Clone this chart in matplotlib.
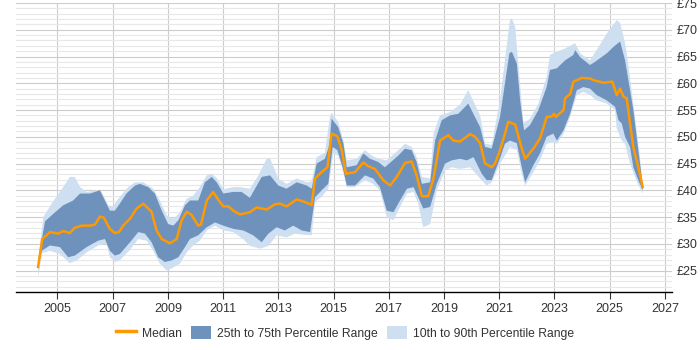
""" Contract rate percentiles over time, median with 25-75 and 10-90 bands """

import numpy as np
import matplotlib.pyplot as plt
from matplotlib.lines import Line2D
from matplotlib.patches import Patch
from matplotlib.ticker import MultipleLocator, FuncFormatter

median_x = [2004.30, 2004.45, 2004.73, 2005.03, 2005.21, 2005.45, 2005.63, 2005.88, 2006.18, 2006.36,
            2006.54, 2006.68, 2006.90, 2007.08, 2007.23, 2007.38, 2007.63, 2007.87, 2008.11, 2008.29,
            2008.41, 2008.59, 2008.78, 2009.08, 2009.32, 2009.50, 2009.68, 2009.86, 2010.10, 2010.20,
            2010.41, 2010.64, 2010.83, 2011.01, 2011.19, 2011.37, 2011.61, 2011.97, 2012.22, 2012.58,
            2012.88, 2013.06, 2013.30, 2013.67, 2013.97, 2014.21, 2014.33, 2014.57, 2014.78, 2014.93,
            2015.14, 2015.30, 2015.45, 2015.78, 2016.08, 2016.26, 2016.50, 2016.80, 2017.05, 2017.29,
            2017.59, 2017.83, 2018.01, 2018.20, 2018.43, 2018.62, 2018.86, 2019.16, 2019.34, 2019.58,
            2019.95, 2020.13, 2020.31, 2020.49, 2020.61, 2020.73, 2020.85, 2021.03, 2021.21, 2021.33,
            2021.58, 2021.82, 2021.94, 2022.24, 2022.48, 2022.72, 2022.91, 2022.99, 2023.05, 2023.33,
            2023.39, 2023.57, 2023.69, 2023.87, 2023.99, 2024.29, 2024.41, 2024.78, 2025.10, 2025.26,
            2025.38, 2025.50, 2025.62, 2025.74, 2025.86, 2026.04, 2026.20]
median_y = [25.7, 30.9, 32.2, 31.9, 32.4, 32.0, 33.0, 33.4, 33.4, 33.6,
            35.1, 34.9, 32.8, 32.0, 32.2, 33.4, 34.7, 36.6, 37.5, 36.6,
            36.0, 32.5, 30.9, 30.1, 30.9, 34.4, 36.0, 35.4, 33.4, 33.6,
            38.1, 39.7, 38.2, 37.0, 37.0, 36.2, 35.5, 35.9, 36.8, 36.4,
            37.4, 37.5, 37.0, 38.3, 37.8, 37.3, 42.2, 43.4, 44.3, 50.6,
            50.1, 47.5, 43.1, 43.4, 45.2, 44.5, 44.0, 41.9, 40.9, 42.5,
            45.1, 45.4, 42.8, 38.9, 38.9, 42.2, 49.3, 50.3, 49.3, 49.1,
            50.5, 50.0, 48.8, 45.0, 44.7, 44.3, 45.0, 47.5, 50.6, 52.8,
            52.3, 47.8, 45.9, 47.8, 49.7, 53.7, 53.8, 54.3, 53.7, 55.0,
            57.2, 58.0, 60.3, 60.7, 61.0, 60.9, 60.6, 60.1, 60.3, 57.8,
            59.0, 57.5, 57.2, 52.5, 48.1, 44.3, 40.6]

p75_x = [2004.30, 2004.43, 2004.55, 2004.85, 2005.21, 2005.57, 2005.82, 2006.18, 2006.54, 2006.72,
         2006.90, 2007.08, 2007.26, 2007.50, 2007.81, 2007.99, 2008.29, 2008.53, 2008.78, 2009.01,
         2009.20, 2009.38, 2009.62, 2009.80, 2010.10, 2010.34, 2010.59, 2010.77, 2011.01, 2011.37,
         2011.67, 2011.97, 2012.40, 2012.70, 2013.00, 2013.30, 2013.67, 2014.03, 2014.21, 2014.39,
         2014.69, 2014.85, 2014.93, 2015.17, 2015.36, 2015.48, 2015.84, 2016.08, 2016.32, 2016.62,
         2016.86, 2017.35, 2017.59, 2017.83, 2018.01, 2018.20, 2018.50, 2018.68, 2018.92, 2019.22,
         2019.52, 2019.88, 2020.31, 2020.49, 2020.73, 2021.03, 2021.21, 2021.37, 2021.46, 2021.64,
         2021.76, 2021.90, 2022.12, 2022.42, 2022.72, 2022.84, 2023.09, 2023.39, 2023.69, 2023.75,
         2023.93, 2024.29, 2024.47, 2024.90, 2025.14, 2025.38, 2025.56, 2025.68, 2025.86, 2026.04,
         2026.20]
p75_y = [26.2, 30.6, 34.2, 35.6, 37.2, 38.1, 39.4, 39.4, 40.0, 38.1,
         36.2, 36.2, 37.5, 39.4, 40.9, 41.2, 40.6, 39.4, 36.2, 33.7,
         33.4, 34.4, 37.2, 38.1, 38.1, 41.5, 42.5, 41.5, 39.4, 39.7,
         39.7, 38.6, 42.5, 42.8, 40.9, 40.3, 41.5, 40.9, 40.3, 45.0,
         45.9, 48.4, 53.4, 51.8, 48.7, 44.3, 44.7, 46.9, 45.9, 45.3,
         44.3, 46.5, 47.8, 47.5, 45.3, 41.2, 41.5, 49.3, 53.1, 54.0,
         54.3, 56.2, 51.8, 48.1, 47.8, 53.7, 60.0, 65.6, 65.9, 63.7,
         56.8, 51.2, 52.2, 55.0, 59.3, 62.5, 62.8, 64.3, 65.3, 66.2,
         64.9, 63.4, 64.0, 65.6, 66.8, 67.8, 64.3, 60.6, 55.0, 47.5,
         41.0]

p25_x = [2004.30, 2004.43, 2004.73, 2005.09, 2005.39, 2005.63, 2006.06, 2006.48, 2006.72, 2006.90,
         2007.08, 2007.26, 2007.63, 2007.93, 2008.17, 2008.41, 2008.65, 2008.89, 2009.14, 2009.38,
         2009.62, 2009.80, 2010.10, 2010.41, 2010.71, 2011.01, 2011.37, 2011.73, 2012.09, 2012.40,
         2012.64, 2012.94, 2013.24, 2013.54, 2013.85, 2014.15, 2014.33, 2014.57, 2014.81, 2014.97,
         2015.14, 2015.33, 2015.48, 2015.78, 2016.14, 2016.44, 2016.68, 2016.93, 2017.17, 2017.41,
         2017.66, 2017.90, 2018.07, 2018.25, 2018.50, 2018.74, 2019.04, 2019.28, 2019.58, 2019.83,
         2020.07, 2020.37, 2020.55, 2020.73, 2021.03, 2021.21, 2021.39, 2021.64, 2021.82, 2021.94,
         2022.24, 2022.48, 2022.72, 2022.96, 2023.09, 2023.33, 2023.57, 2023.81, 2024.05, 2024.29,
         2024.53, 2024.90, 2025.20, 2025.32, 2025.44, 2025.56, 2025.74, 2025.86, 2026.04, 2026.20]
p25_y = [25.3, 28.7, 29.7, 29.4, 27.5, 27.8, 29.4, 30.6, 30.9, 28.7,
         27.8, 28.1, 30.3, 32.2, 31.9, 30.3, 27.5, 26.6, 26.9, 27.5,
         29.4, 30.9, 31.6, 33.1, 34.0, 33.4, 32.8, 32.5, 31.6, 30.3,
         31.9, 33.1, 32.5, 33.4, 32.5, 32.2, 38.7, 40.0, 41.2, 48.1,
         47.5, 44.3, 40.9, 40.9, 42.8, 42.2, 40.6, 36.2, 35.9, 38.1,
         40.3, 40.6, 38.7, 36.6, 36.9, 41.2, 45.0, 45.6, 45.9, 45.6,
         46.2, 43.1, 41.9, 41.9, 46.0, 48.7, 49.3, 48.8, 44.3, 41.5,
         44.7, 46.9, 50.0, 50.6, 49.3, 51.2, 54.3, 58.7, 59.3, 59.0,
         57.8, 56.8, 55.6, 53.1, 52.5, 50.0, 48.1, 44.3, 41.9, 40.0]

p90_x = [2004.30, 2004.49, 2004.79, 2005.21, 2005.45, 2005.63, 2005.82, 2006.06, 2006.42, 2006.60,
         2006.84, 2007.02, 2007.20, 2007.56, 2007.81, 2008.11, 2008.47, 2008.71, 2008.96, 2009.20,
         2009.44, 2009.68, 2009.92, 2010.16, 2010.41, 2010.59, 2010.77, 2011.01, 2011.37, 2011.61,
         2011.97, 2012.28, 2012.58, 2012.70, 2013.00, 2013.30, 2013.67, 2014.03, 2014.21, 2014.39,
         2014.69, 2014.87, 2014.93, 2015.17, 2015.36, 2015.48, 2015.84, 2016.14, 2016.38, 2016.62,
         2016.92, 2017.35, 2017.59, 2017.83, 2018.01, 2018.20, 2018.50, 2018.62, 2018.86, 2019.22,
         2019.58, 2019.88, 2020.31, 2020.49, 2020.73, 2021.03, 2021.21, 2021.39, 2021.46, 2021.58,
         2021.70, 2021.88, 2022.12, 2022.42, 2022.72, 2022.84, 2023.09, 2023.39, 2023.75, 2023.93,
         2024.29, 2024.53, 2024.90, 2025.26, 2025.38, 2025.56, 2025.68, 2025.92, 2026.10, 2026.20]
p90_y = [26.6, 35.0, 37.5, 40.6, 42.5, 42.5, 40.6, 39.7, 40.0, 39.7,
         37.2, 37.0, 38.4, 40.6, 41.5, 41.5, 40.3, 38.1, 35.3, 34.7,
         35.9, 38.4, 39.0, 40.6, 42.8, 43.1, 42.3, 40.2, 40.6, 40.6,
         40.3, 42.8, 45.9, 46.0, 42.2, 41.2, 42.2, 41.5, 41.7, 46.2,
         47.0, 53.7, 54.5, 52.8, 49.3, 45.6, 45.9, 47.5, 46.5, 45.9,
         45.6, 47.5, 48.7, 48.1, 46.2, 42.5, 42.2, 50.6, 54.0, 54.6,
         56.0, 58.7, 54.0, 48.7, 48.5, 56.8, 64.3, 71.8, 72.1, 70.6,
         63.1, 52.5, 53.4, 56.2, 61.2, 65.3, 65.9, 66.5, 67.5, 65.6,
         64.3, 66.2, 69.3, 71.8, 71.3, 67.5, 63.4, 53.7, 46.2, 41.0]

p10_x = [2004.30, 2004.45, 2004.73, 2005.09, 2005.45, 2005.70, 2006.06, 2006.48, 2006.78, 2006.90,
         2007.08, 2007.26, 2007.63, 2007.93, 2008.23, 2008.47, 2008.71, 2008.96, 2009.20, 2009.44,
         2009.68, 2009.92, 2010.16, 2010.41, 2010.71, 2011.01, 2011.37, 2011.73, 2011.97, 2012.34,
         2012.64, 2012.94, 2013.30, 2013.60, 2013.91, 2014.21, 2014.33, 2014.57, 2014.81, 2014.99,
         2015.17, 2015.36, 2015.48, 2015.78, 2016.14, 2016.44, 2016.68, 2016.93, 2017.17, 2017.41,
         2017.66, 2017.90, 2018.07, 2018.25, 2018.50, 2018.74, 2019.04, 2019.28, 2019.58, 2019.95,
         2020.31, 2020.55, 2020.73, 2021.03, 2021.21, 2021.39, 2021.64, 2021.82, 2021.94, 2022.24,
         2022.48, 2022.72, 2022.96, 2023.09, 2023.33, 2023.57, 2023.81, 2024.05, 2024.29, 2024.53,
         2024.90, 2025.20, 2025.26, 2025.44, 2025.56, 2025.74, 2025.92, 2026.04, 2026.20]
p10_y = [23.8, 28.3, 28.7, 28.1, 26.4, 26.9, 28.4, 29.7, 30.0, 27.5,
         26.6, 26.9, 28.9, 30.9, 30.6, 28.7, 26.3, 25.0, 25.6, 26.3,
         28.4, 29.7, 30.6, 32.5, 33.4, 32.5, 32.2, 30.9, 29.6, 29.1,
         29.6, 31.6, 31.2, 31.9, 31.7, 31.6, 37.8, 38.8, 40.3, 46.9,
         46.5, 43.4, 40.6, 40.6, 41.9, 41.2, 40.0, 35.0, 34.4, 36.9,
         39.4, 39.7, 37.5, 33.1, 33.7, 40.0, 43.7, 44.3, 44.0, 44.3,
         42.2, 40.9, 41.5, 45.0, 46.5, 48.1, 47.5, 43.1, 40.9, 43.4,
         45.6, 48.7, 49.0, 48.7, 50.6, 53.7, 57.8, 58.4, 57.8, 56.8,
         56.2, 55.0, 51.5, 49.3, 48.7, 45.0, 42.5, 41.0, 39.4]

year_ticks = list(range(2005, 2028, 2))

ORANGE = '#ff9900'
DARK = '#6f92bd'
LIGHT = '#cddff0'


def main():
    plt.rcParams['font.family'] = ['Liberation Sans', 'DejaVu Sans']
    fig = plt.figure(figsize=(7, 3.5), dpi=100)
    ax = fig.add_axes([16 / 700, 58 / 350, 656 / 700, 289 / 350])

    # outer band first, inner band on top, median last
    ax.fill(np.concatenate([p90_x, p10_x[::-1]]), np.concatenate([p90_y, p10_y[::-1]]),
            color=LIGHT, lw=0, zorder=2)
    ax.fill(np.concatenate([p75_x, p25_x[::-1]]), np.concatenate([p75_y, p25_y[::-1]]),
            color=DARK, lw=0, zorder=3)
    ax.plot(median_x, median_y, color=ORANGE, lw=1.8, zorder=4)

    ax.set_xlim(2003.5, 2027.26)
    ax.set_ylim(21, 75)
    ax.set_xticks(year_ticks)
    ax.yaxis.set_major_locator(MultipleLocator(5))
    ax.yaxis.set_minor_locator(MultipleLocator(1))
    ax.yaxis.set_major_formatter(FuncFormatter(lambda v, p: '£%d' % v))
    ax.yaxis.tick_right()
    ax.set_yticks([25, 30, 35, 40, 45, 50, 55, 60, 65, 70, 75])

    ax.grid(True, axis='x', color='#cccccc', lw=0.8, zorder=0)
    ax.grid(True, axis='y', which='major', color='#cccccc', lw=0.8, zorder=0)
    ax.grid(True, axis='y', which='minor', color='#e8e8e8', lw=0.8, zorder=0)
    ax.set_axisbelow(True)

    for side in ('left', 'right', 'top'):
        ax.spines[side].set_visible(False)
    ax.spines['bottom'].set_color('#000000')
    ax.spines['bottom'].set_linewidth(1.0)

    ax.tick_params(axis='x', length=5, width=0.8, color='#333333', labelsize=9,
                   labelcolor='#333333', pad=3)
    ax.tick_params(axis='y', which='both', length=0, labelsize=9, labelcolor='#333333', pad=3)

    handles = [Line2D([], [], color=ORANGE, lw=2.5),
               Patch(facecolor=DARK, edgecolor='none'),
               Patch(facecolor=LIGHT, edgecolor='none')]
    labels = ['Median', '25th to 75th Percentile Range', '10th to 90th Percentile Range']
    fig.legend(handles, labels, loc='center', bbox_to_anchor=(0.493, 0.049), ncol=3,
               frameon=False, fontsize=8.7, handlelength=1.6, handleheight=1.3,
               handletextpad=0.5, columnspacing=0.8, labelcolor='#333333')

    fig.savefig('out.png', dpi=100)


if __name__ == '__main__':
    main()
